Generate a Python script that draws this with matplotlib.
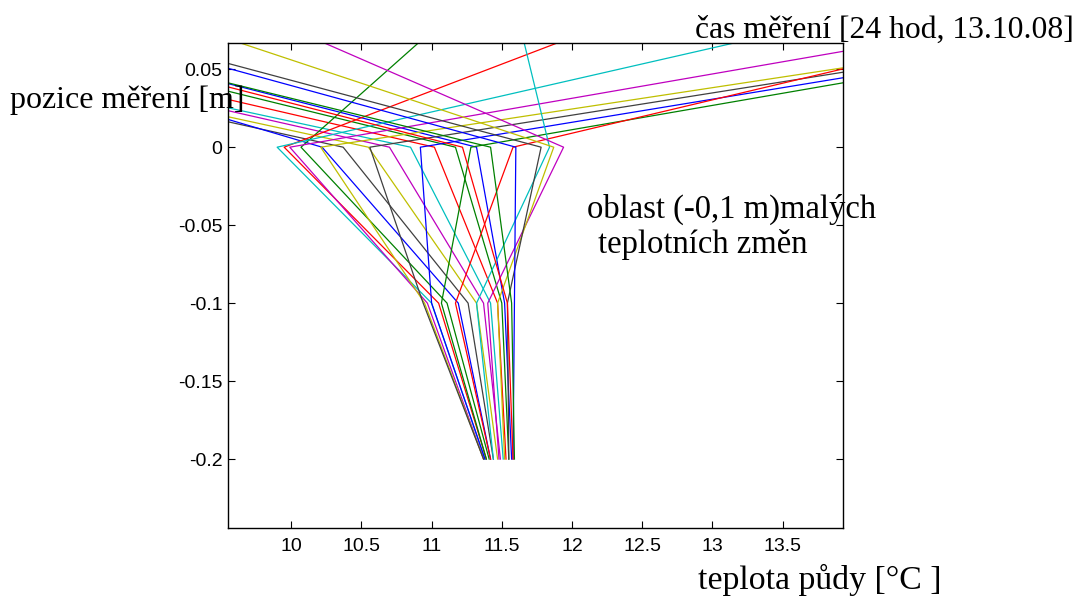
import numpy as np
import matplotlib.pyplot as plt

# hloubky mereni [m]  (0.1 = vzduch nad povrchem)
depths = [-0.2, -0.1, 0.0, 0.1]

# teploty pro 24 hodinovych mereni
t_02 = [11.57, 11.55, 11.53, 11.51, 11.49, 11.47, 11.44, 11.42, 11.41, 11.39,
        11.38, 11.37, 11.37, 11.37, 11.38, 11.39, 11.42, 11.44, 11.48, 11.52,
        11.55, 11.58, 11.59, 11.58]
t_01 = [11.52, 11.50, 11.47, 11.42, 11.37, 11.32, 11.26, 11.19, 11.11, 11.05,
        11.00, 10.97, 10.95, 10.94, 11.00, 11.07, 11.17, 11.32, 11.40, 11.47,
        11.54, 11.59, 11.57, 11.54]
t_00 = [11.32, 11.17, 11.02, 10.85, 10.70, 10.55, 10.37, 10.22, 10.07, 9.95,
        9.90, 9.99, 10.21, 10.56, 10.92, 11.28, 11.58, 11.84, 11.94, 11.87,
        11.78, 11.60, 11.42, 11.22]
t_air = [6.98, 6.66, 6.22, 5.70, 5.79, 5.43, 5.34, 6.46, 11.32, 12.86,
         14.77, 16.40, 17.52, 17.57, 17.68, 17.70, 16.26, 11.57, 9.39, 8.53,
         7.63, 7.55, 6.89, 6.90]

# matlab barvy (b g r c m y k)
colors = [(0, 0, 1), (0, 0.5, 0), (1, 0, 0), (0, 0.75, 0.75),
          (0.75, 0, 0.75), (0.75, 0.75, 0), (0.25, 0.25, 0.25)]

plt.rcParams['font.family'] = ['Liberation Sans', 'DejaVu Sans']

fig = plt.figure(figsize=(10.78, 5.99), dpi=100)
ax = fig.add_axes([0.2115, 0.118, 0.5705, 0.8107])

for i in range(len(t_00)):
    temps = [t_02[i], t_01[i], t_00[i], t_air[i]]
    ax.plot(temps, depths, '-', color=colors[i % 7], lw=0.9)

ax.set_xlim(9.55, 13.93)
ax.set_ylim(-0.2444, 0.067)
ax.set_xticks(np.arange(10, 14, 0.5))
ax.set_xticklabels(['10', '10.5', '11', '11.5', '12', '12.5', '13', '13.5'])
ax.set_yticks([-0.2, -0.15, -0.1, -0.05, 0, 0.05])
ax.set_yticklabels(['-0.2', '-0.15', '-0.1', '-0.05', '0', '0.05'])
ax.tick_params(direction='in', top=True, right=True, labelsize=14,
               length=5, width=0.8, pad=4)
ax.tick_params(axis='x', pad=7)
for s in ax.spines.values():
    s.set_linewidth(1.0)

serif = ['Liberation Serif', 'DejaVu Serif']
fig.text(695 / 1078, 1 - 38 / 599, 'čas měření [24 hod, 13.10.08]',
         family=serif, fontsize=22.8, ha='left', va='baseline')
fig.text(10 / 1078, 1 - 108 / 599, 'pozice měření [m]',
         family=serif, fontsize=23, ha='left', va='baseline')
fig.text(698 / 1078, 1 - 589 / 599, 'teplota půdy [°C ]',
         family=serif, fontsize=24.3, ha='left', va='baseline')
fig.text(587 / 1078, 1 - 218 / 599, 'oblast (-0,1 m)malých',
         family=serif, fontsize=23.5, ha='left', va='baseline')
fig.text(598 / 1078, 1 - 253 / 599, 'teplotních změn',
         family=serif, fontsize=23.5, ha='left', va='baseline')

fig.savefig('out.png', dpi=100)
